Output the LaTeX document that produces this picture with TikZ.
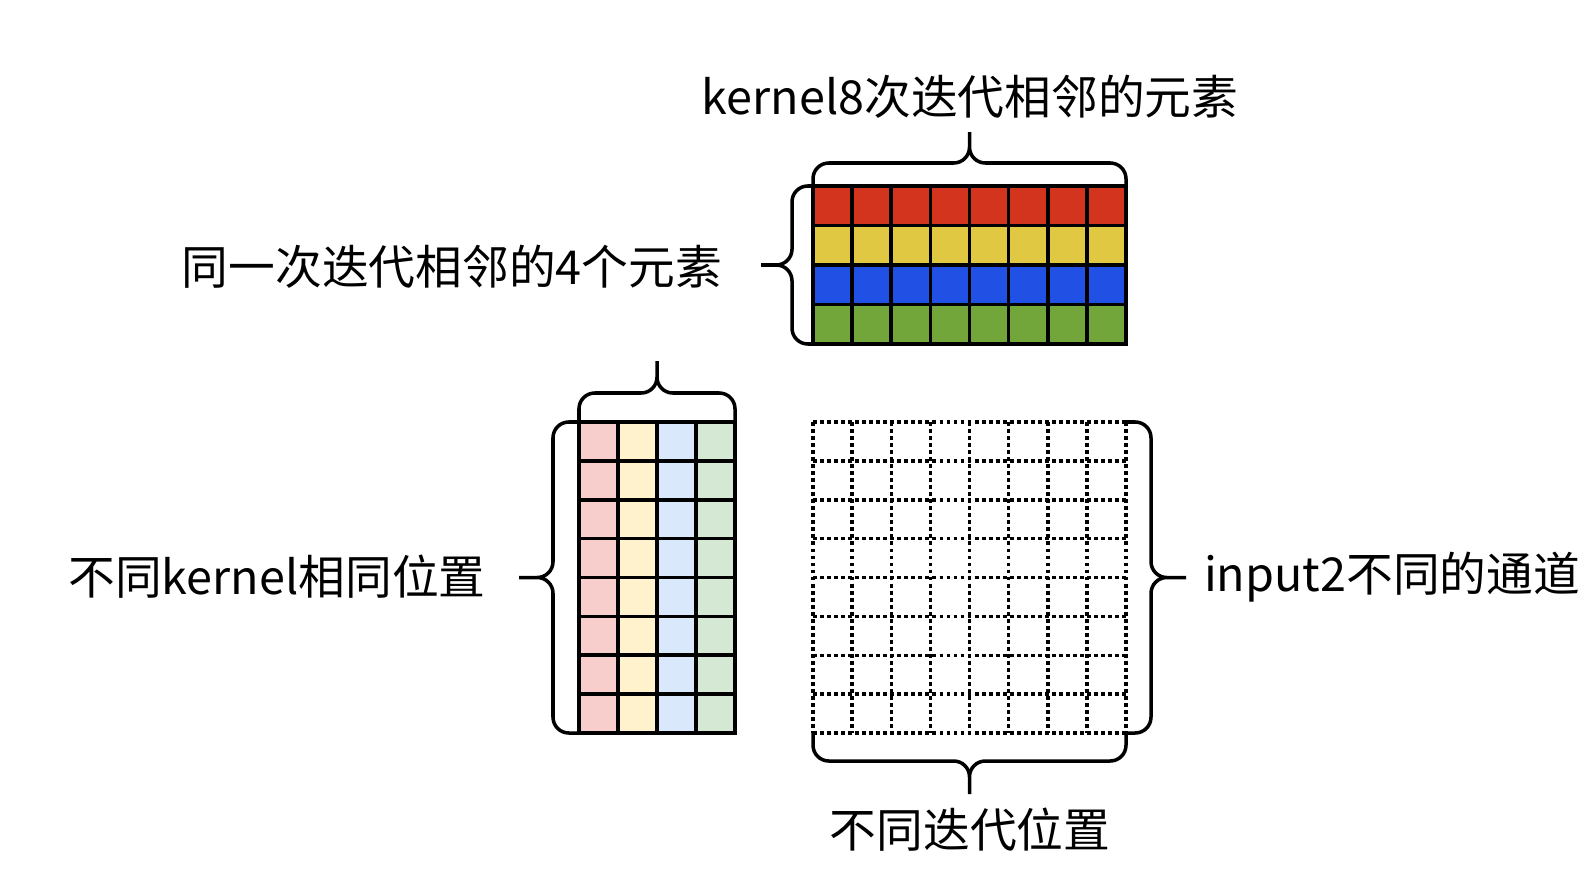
\documentclass[tikz,border=0pt]{standalone}
\usepackage{fontspec}
\newfontfamily\cjk{Noto Sans CJK SC}
\definecolor{kred}{HTML}{D2341E}
\definecolor{kyellow}{HTML}{E0C842}
\definecolor{kblue}{HTML}{2050E4}
\definecolor{kgreen}{HTML}{73A63A}
\definecolor{lred}{HTML}{F8CECC}
\definecolor{lyellow}{HTML}{FFF2CC}
\definecolor{lblue}{HTML}{DAE8FC}
\definecolor{lgreen}{HTML}{D5E8D4}
\begin{document}
\begin{tikzpicture}[x=0.02cm, y=-0.02cm,
		cell/.style = {draw, line width=2.1pt},
		dotline/.style = {line width=2pt, dash pattern=on 2.2pt off 1.8pt},
		curly/.style = {line width=2pt, rounded corners=9pt},
		lbl/.style = {font=\cjk\fontsize{26.6}{30}\selectfont, inner sep=0pt}]
			\useasboundingbox (0,0) rectangle (1596,876);
			\foreach \c [count=\i from 0] in {kred,kyellow,kblue,kgreen}
				\foreach \j in {0,...,7}
					\draw [cell, fill=\c] (813+39.125*\j,186+39.5*\i) rectangle ++(39.125,39.5);
			\foreach \c [count=\j from 0] in {lred,lyellow,lblue,lgreen}
				\foreach \i in {0,...,7}
					\draw [cell, fill=\c] (579+39*\j,422+38.875*\i) rectangle ++(39,38.875);
			\foreach \k in {0,...,8} {
				\draw [dotline] (813+39.125*\k,422) -- ++(0,311);
				\draw [dotline] (813,422+38.875*\k) -- ++(313,0);
			}
			%
			\node [lbl] (kiter) at (970,97) {kernel8次迭代相邻的元素};
			\node [lbl] (adj) at (452,267) {同一次迭代相邻的4个元素};
			\node [lbl] (samepos) at (277,577) {不同kernel相同位置};
			\node [lbl] (chan) at (1392,577) {input2不同的通道};
			\node [lbl] (iterpos) at (970,830) {不同迭代位置};
			%
			\draw [curly] (813,186) -- (813,163) -- (969.5,163) -- (969.5,132)
				(1126,186) -- (1126,163) -- (969.5,163) -- (969.5,132);
			\draw [curly] (813,186) -- (792,186) -- (792,265) -- (761,265)
				(813,344) -- (792,344) -- (792,265) -- (761,265);
			\draw [curly] (579,422) -- (579,393) -- (657,393) -- (657,361)
				(735,422) -- (735,393) -- (657,393) -- (657,361);
			\draw [curly] (579,422) -- (553,422) -- (553,577.5) -- (519,577.5)
				(579,733) -- (553,733) -- (553,577.5) -- (519,577.5);
			\draw [curly] (1126,422) -- (1151,422) -- (1151,577.5) -- (1186,577.5)
				(1126,733) -- (1151,733) -- (1151,577.5) -- (1186,577.5);
			\draw [curly] (813,733) -- (813,761) -- (969.5,761) -- (969.5,794)
				(1126,733) -- (1126,761) -- (969.5,761) -- (969.5,794);
		\end{tikzpicture}
\end{document}
